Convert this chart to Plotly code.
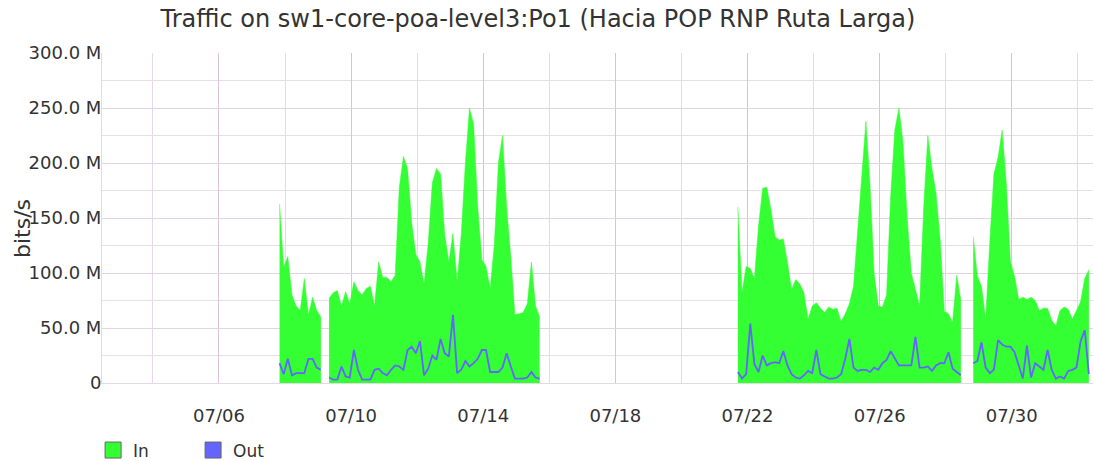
import pandas as pd
import plotly.graph_objects as go

# ---------------- data (Mbit/s, 3-hour samples) ----------------
seg_starts = ["2015-07-07 20:00", "2015-07-09 08:00", "2015-07-21 17:00", "2015-07-28 20:00"]

in_seg1 = [163, 105, 115, 80, 70, 66, 95, 62, 78, 66, 60]
out_seg1 = [18, 8, 22, 7, 9, 9, 9, 22, 22, 14, 12]

in_seg2 = [77, 82, 84, 70, 83, 72, 92, 84, 80, 86,
           88, 70, 110, 96, 96, 92, 98, 178, 206, 195,
           146, 117, 110, 90, 127, 182, 195, 190, 135, 110,
           136, 92, 135, 200, 250, 235, 160, 112, 106, 86,
           125, 200, 225, 160, 115, 62, 63, 64, 72, 110,
           70, 60]
out_seg2 = [5, 3, 3, 15, 6, 5, 30, 12, 3, 3,
            3, 12, 13, 9, 7, 12, 16, 15, 12, 30,
            33, 27, 38, 7, 13, 25, 21, 40, 27, 24,
            62, 9, 12, 20, 15, 18, 22, 30, 30, 10,
            10, 10, 14, 27, 15, 4, 4, 4, 5, 10,
            5, 4]

in_seg3 = [160, 82, 106, 104, 95, 143, 177, 178, 158, 133,
           130, 131, 110, 85, 94, 90, 82, 58, 70, 73,
           68, 64, 69, 67, 68, 56, 63, 72, 88, 140,
           190, 238, 180, 100, 70, 69, 80, 170, 230, 250,
           218, 150, 100, 86, 70, 160, 225, 195, 172, 130,
           65, 63, 55, 98, 75]
out_seg3 = [10, 4, 8, 54, 17, 10, 25, 16, 18, 19,
            18, 29, 16, 8, 5, 4, 7, 11, 9, 30,
            8, 6, 4, 4, 5, 8, 22, 40, 14, 11,
            12, 12, 10, 14, 12, 18, 21, 29, 22, 16,
            16, 16, 16, 42, 14, 14, 15, 11, 16, 18,
            18, 28, 13, 10, 7]

in_seg4 = [133, 97, 88, 58, 128, 190, 205, 230, 182, 110,
           97, 76, 78, 76, 78, 75, 66, 68, 68, 57,
           52, 66, 69, 67, 58, 66, 74, 95, 103]
out_seg4 = [18, 20, 37, 14, 9, 12, 39, 35, 33, 33,
            28, 15, 4, 34, 5, 18, 15, 12, 30, 12,
            4, 6, 4, 11, 12, 14, 38, 48, 8]

y_tickvals = [0, 50, 100, 150, 200, 250, 300]
y_ticktext = ["0", "50.0 M", "100.0 M", "150.0 M", "200.0 M", "250.0 M", "300.0 M"]

x_range = ["2015-07-02 11:00", "2015-08-01 11:00"]
title_text = "Traffic on sw1-core-poa-level3:Po1 (Hacia POP RNP Ruta Larga)"
y_title = "bits/s"

GREEN = "#33FF33"
BLUE = "#6464FF"
FONT = "DejaVu Sans"
TXT = "#333333"

in_segs = [in_seg1, in_seg2, in_seg3, in_seg4]
out_segs = [out_seg1, out_seg2, out_seg3, out_seg4]

fig = go.Figure()
# In: one filled trace per contiguous segment (gaps stay empty)
for start, si in zip(seg_starts, in_segs):
    t = pd.date_range(start, periods=len(si), freq="3h")
    fig.add_trace(go.Scatter(x=t, y=si, mode="lines", fill="tozeroy",
                             fillcolor=GREEN, line=dict(color=GREEN, width=0.5),
                             showlegend=False, name="In", legendgroup="in"))
for start, so in zip(seg_starts, out_segs):
    t = pd.date_range(start, periods=len(so), freq="3h")
    fig.add_trace(go.Scatter(x=t, y=so, mode="lines",
                             line=dict(color=BLUE, width=1.8),
                             showlegend=False, name="Out", legendgroup="out"))
# legend entries
fig.add_trace(go.Scatter(x=[None], y=[None], mode="markers", name="In", legendgroup="in",
                         marker=dict(symbol="square", size=16, color=GREEN,
                                     line=dict(color="#666666", width=1))))
fig.add_trace(go.Scatter(x=[None], y=[None], mode="markers", name="Out", legendgroup="out",
                         marker=dict(symbol="square", size=16, color=BLUE,
                                     line=dict(color="#666666", width=1))))

fig.update_layout(
    width=1094, height=461,
    margin=dict(l=102, r=1, t=53, b=78, autoexpand=False),
    paper_bgcolor="white", plot_bgcolor="white",
    font=dict(family=FONT, size=17, color=TXT),
    title=dict(text=title_text, x=538 / 1094, xref="container", xanchor="center",
               y=1 - 19 / 461, yref="container", yanchor="middle",
               font=dict(family=FONT, size=24, color=TXT)),
    legend=dict(orientation="h", x=-0.009, xanchor="left", y=-0.15, yanchor="top",
                font=dict(family=FONT, size=17, color=TXT),
                entrywidth=55, entrywidthmode="pixels",
                bgcolor="rgba(0,0,0,0)"),
    showlegend=True,
    annotations=[dict(text=y_title, textangle=-90, xref="paper", yref="paper",
                      x=(22 - 102) / 991, y=(383 - 229) / 330,
                      xanchor="center", yanchor="middle", showarrow=False,
                      font=dict(family=FONT, size=22, color=TXT))],
)
fig.update_xaxes(
    type="date", range=x_range, tickformat="%m/%d", automargin=False,
    tick0="2015-07-06", dtick=4 * 86400000,
    showgrid=True, gridcolor="#D8C4D8", gridwidth=1,
    minor=dict(dtick=2 * 86400000, tick0="2015-07-06", showgrid=True,
               gridcolor="#E6D8E6", gridwidth=1),
    ticks="", ticklabelstandoff=16,
    showline=True, linecolor="#E6D8E6", zeroline=False,
    tickfont=dict(family=FONT, size=18, color=TXT),
)
fig.update_yaxes(
    range=[0, 300], tickvals=y_tickvals, ticktext=y_ticktext, automargin=False,
    showgrid=True, gridcolor="#E3D3E3", gridwidth=1,
    minor=dict(dtick=25, showgrid=True, gridcolor="#E9DDE9", gridwidth=1),
    ticks="", ticklabelstandoff=-4,
    showline=True, linecolor="#E6D8E6", zeroline=False,
    tickfont=dict(family=FONT, size=18, color=TXT),
)

fig.write_html("out.html", config={"displayModeBar": False},
               post_script="document.body.style.margin='0px';")
